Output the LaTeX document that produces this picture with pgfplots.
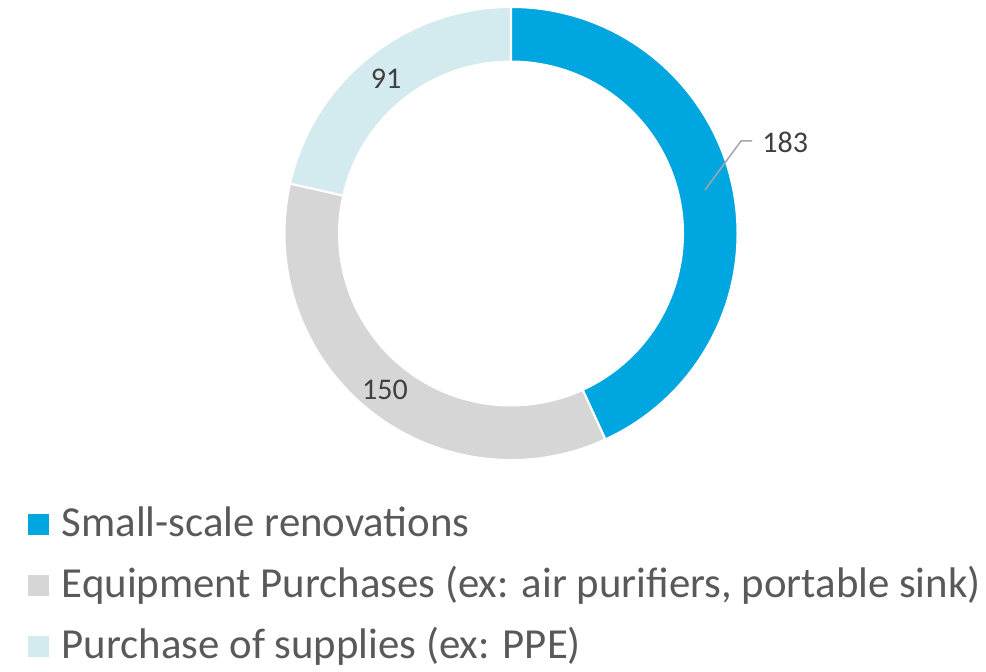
\documentclass[border=0pt]{standalone}
\usepackage{pgfplots}
\pgfplotsset{compat=1.18}
\usepackage{pgfplotstable}
\usepackage{fontspec}
\setmainfont{Carlito}
\definecolor{cBlue}{HTML}{00A6DF}
\definecolor{cGrey}{HTML}{D6D6D6}
\definecolor{cLight}{HTML}{D3EBEE}
\definecolor{cText}{HTML}{595959}
\definecolor{cLabel}{HTML}{404040}
\definecolor{cLeader}{HTML}{A6A6A6}

\pgfplotstableread{
value
183
150
91
}\donutdata

\begin{document}
\begin{tikzpicture}
\pgfplotstablegetelem{0}{value}\of\donutdata \let\vA\pgfplotsretval
\pgfplotstablegetelem{1}{value}\of\donutdata \let\vB\pgfplotsretval
\pgfplotstablegetelem{2}{value}\of\donutdata \let\vC\pgfplotsretval
\pgfmathsetmacro\tot{\vA+\vB+\vC}
\pgfmathsetmacro\aA{90}
\pgfmathsetmacro\aB{90-360*(\vA/\tot)}
\pgfmathsetmacro\aC{\aB-360*(\vB/\tot)}
\pgfmathsetmacro\aD{\aC-360*(\vC/\tot)}
\def\Ro{113.25pt}
\def\Ri{86pt}
\def\Rw{27.25pt}
\begin{axis}[
  x=0.5pt, y=0.5pt, scale only axis,
  xmin=0, xmax=986, ymin=0, ymax=671,
  hide axis, clip=false,
  legend style={at={(axis cs:28,671-504)}, anchor=north west, draw=none, fill=none,
    inner sep=0pt, outer sep=0pt,
    font=\fontsize{21.4}{25}\selectfont, text=cText,
    nodes={inner sep=0pt, text height=16pt, text depth=4.5pt},
    row sep=10pt,
    /tikz/every odd column/.append style={column sep=6.5pt}},
  legend cell align=left,
]
\path (axis cs:0,0) rectangle (axis cs:986,671);
\addlegendimage{legend image code/.code={\fill[cBlue] (0pt,-5pt) rectangle (10pt,5pt);}}
\addlegendentry{Small-scale renovations}
\addlegendimage{legend image code/.code={\fill[cGrey] (0pt,-5pt) rectangle (10pt,5pt);}}
\addlegendentry{Equipment Purchases (ex: air purifiers, portable sink)}
\addlegendimage{legend image code/.code={\fill[cLight] (0pt,-5pt) rectangle (10pt,5pt);}}
\addlegendentry{Purchase of supplies (ex: PPE)}

\fill[cBlue, draw=white, line width=1pt] (axis cs:511,437.5) ++(\aA:\Ro) arc[start angle=\aA, end angle=\aB, radius=\Ro] -- ++(\aB:-\Rw) arc[start angle=\aB, end angle=\aA, radius=\Ri] -- cycle;
\fill[cGrey, draw=white, line width=1pt] (axis cs:511,437.5) ++(\aB:\Ro) arc[start angle=\aB, end angle=\aC, radius=\Ro] -- ++(\aC:-\Rw) arc[start angle=\aC, end angle=\aB, radius=\Ri] -- cycle;
\fill[cLight, draw=white, line width=1pt] (axis cs:511,437.5) ++(\aC:\Ro) arc[start angle=\aC, end angle=\aD, radius=\Ro] -- ++(\aD:-\Rw) arc[start angle=\aD, end angle=\aC, radius=\Ri] -- cycle;

\draw[cLeader, line width=0.75pt] (axis cs:705,671-190) -- (axis cs:741,671-141) -- (axis cs:752,671-141);
\node[text=cLabel, font=\fontsize{15}{18}\selectfont, inner sep=0pt, anchor=west] at (axis cs:762,671-142) {183};
\node[text=cLabel, font=\fontsize{15}{18}\selectfont, inner sep=0pt] at (axis cs:385,671-389.5) {150};
\node[text=cLabel, font=\fontsize{15}{18}\selectfont, inner sep=0pt] at (axis cs:386,671-79) {91};
\end{axis}
\end{tikzpicture}
\end{document}
